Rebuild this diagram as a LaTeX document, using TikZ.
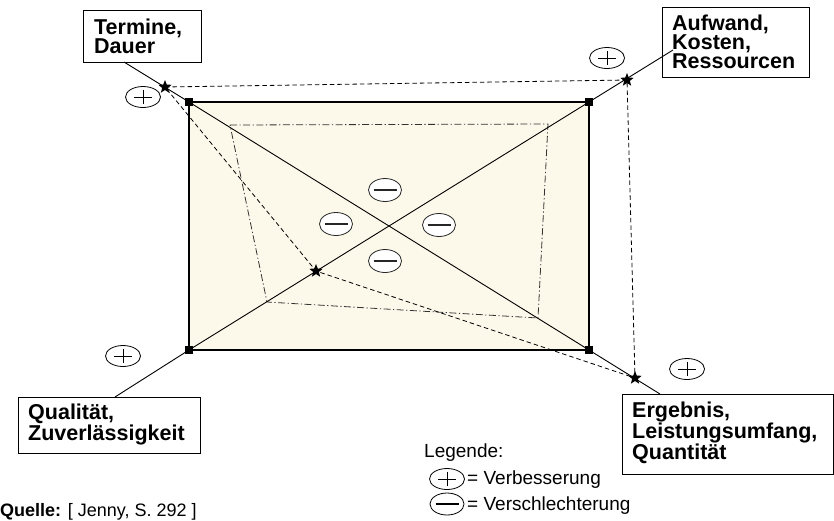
\documentclass[tikz,border=0pt]{standalone}
\usepackage{fontspec}
\setmainfont{Liberation Sans}
\usetikzlibrary{shapes.geometric}
\definecolor{cream}{HTML}{FDF9EA}
\definecolor{dashgray}{HTML}{333333}
\begin{document}
\begin{tikzpicture}[x=1pt,y=-1pt,
  labelbox/.style={draw, line width=0.9pt, rectangle, inner sep=0pt, anchor=north west},
  labeltext/.style={font=\fontsize{21.5}{#1}\selectfont\bfseries, align=left, anchor=base west, inner sep=0pt},
  legtext/.style={font=\fontsize{19}{22}\selectfont, anchor=base west, inner sep=0pt},
  thinline/.style={line width=0.9pt},
  dashline/.style={line width=0.8pt, dash pattern=on 4.5pt off 3pt},
  dashdotline/.style={line width=0.8pt, dashgray, dash pattern=on 7pt off 2.5pt on 1.2pt off 2.5pt},
  cornersq/.style={rectangle, fill=black, minimum size=8pt, inner sep=0pt},
  starnode/.style={star, star points=5, star point ratio=2.3, fill=black, minimum size=14pt, inner sep=0pt},
  plusell/.style={ellipse, draw, line width=0.8pt, minimum width=35pt, minimum height=21pt, inner sep=0pt,
    path picture={\draw[line width=0.9pt] ([xshift=-9pt]path picture bounding box.center) -- ([xshift=9pt]path picture bounding box.center);
                  \draw[line width=0.9pt] ([yshift=-7pt]path picture bounding box.center) -- ([yshift=7pt]path picture bounding box.center);}},
  minusell/.style={ellipse, draw=black!85, line width=0.8pt, fill=white, minimum width=33pt, minimum height=23pt, inner sep=0pt,
    path picture={\draw[line width=2.8pt] ([xshift=-11.5pt]path picture bounding box.center) -- ([xshift=11.5pt]path picture bounding box.center);}}
]
\useasboundingbox (0,0) rectangle (834,520);

% corner coordinates
\coordinate (TLc) at (189,102);
\coordinate (TRc) at (589,102);
\coordinate (BLc) at (189,350);
\coordinate (BRc) at (589,350);

% star positions
\coordinate (sTL) at (165,87);
\coordinate (sTR) at (627,80);
\coordinate (sBR) at (635,378);
\coordinate (sIn) at (316,271);

% inner dash-dot polygon
\coordinate (d1) at (230,125);
\coordinate (d2) at (548,124);
\coordinate (d3) at (538,318);
\coordinate (d4) at (267,302);

% connector ends on boxes
\coordinate (t1) at (124,62);
\coordinate (a1) at (673,50);
\coordinate (e1) at (660,394);
\coordinate (q1) at (115,397);

% fill
\fill[cream] (TLc) rectangle (BRc);

% dash-dot polygon
\draw[dashdotline] (d1) -- (d2) -- (d3) -- (d4) -- cycle;

% label boxes
\node[labelbox, minimum width=118pt, minimum height=52pt] (termine) at (83,10) {};
\node[labelbox, minimum width=147pt, minimum height=70pt] (aufwand) at (662,7) {};
\node[labelbox, minimum width=182pt, minimum height=56pt] (qualitaet) at (18,397) {};
\node[labelbox, minimum width=211pt, minimum height=80pt] (ergebnis) at (622,394) {};

% texts (base anchor = baseline of last line)
\node[labeltext=19] (termineT) at (94,53) {Termine,\\Dauer};
\node[labeltext=19] (aufwandT) at (672,68) {Aufwand,\\Kosten,\\Ressourcen};
\node[labeltext=21] (qualitaetT) at (28,440) {Qualität,\\Zuverlässigkeit};
\node[labeltext=21] (ergebnisT) at (632,459) {Ergebnis,\\Leistungsumfang,\\Quantität};

% diagonals and axes
\draw[thinline] (t1) -- (TLc) -- (BRc) -- (e1);
\draw[thinline] (q1) -- (BLc) -- (TRc) -- (a1);

% dashed polygon
\draw[dashline] (sTL) -- (sTR) -- (sBR) -- (sIn) -- cycle;

% border
\draw[line width=2.4pt] (TLc) rectangle (BRc);

% corner squares
\node[cornersq] (TL) at (TLc) {};
\node[cornersq] (TR) at (TRc) {};
\node[cornersq] (BL) at (BLc) {};
\node[cornersq] (BR) at (BRc) {};

% stars
\node[starnode] (starTL) at (sTL) {};
\node[starnode] (starTR) at (sTR) {};
\node[starnode] (starBR) at (sBR) {};
\node[starnode] (starIn) at (sIn) {};

% plus ellipses
\node[plusell] (p1) at (143,97) {};
\node[plusell] (p2) at (607,58) {};
\node[plusell] (p3) at (123,356) {};
\node[plusell] (p4) at (687,369) {};

% minus ellipses
\node[minusell] (m1) at (385,190) {};
\node[minusell] (m2) at (336,224) {};
\node[minusell] (m3) at (439,225) {};
\node[minusell] (m4) at (385,261) {};

% legend
\node[legtext] (leg) at (424,457) {Legende:};
\node[plusell] (lp) at (447,479) {};
\node[legtext] (lpT) at (467,484) {= Verbesserung};
\node[minusell, draw=black, minimum width=34pt, minimum height=22pt] (lm) at (447,504) {};
\node[legtext] (lmT) at (467,510) {= Verschlechterung};

% source
\node[font=\fontsize{18}{20}\selectfont, anchor=base west, inner sep=0pt] (quelle) at (0,516) {\textbf{Quelle:} [ Jenny, S. 292 ]};
\end{tikzpicture}
\end{document}
